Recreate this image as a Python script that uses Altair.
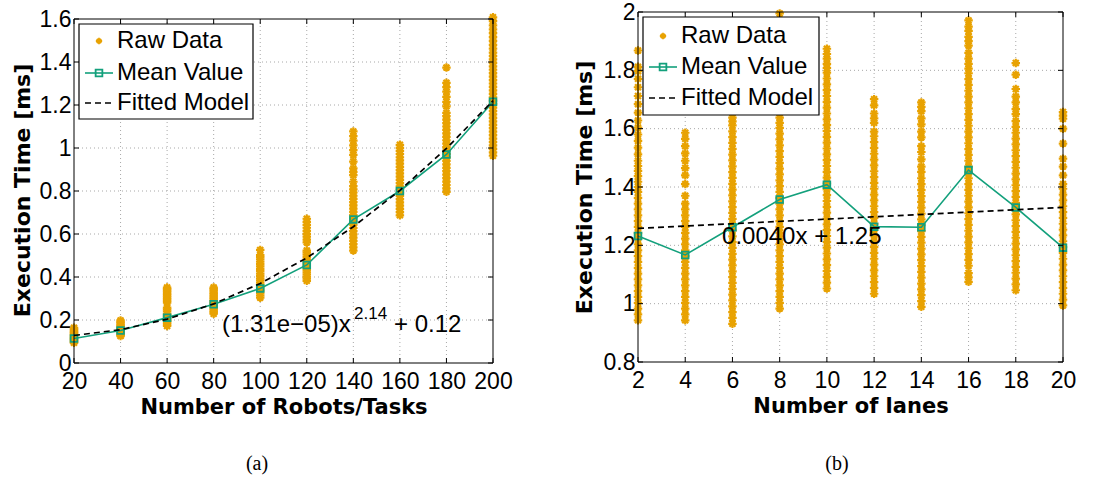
import altair as alt
import pandas as pd

# ---------------- panel (a): number of robots / tasks ----------------
robots_ticks = [20, 40, 60, 80, 100, 120, 140, 160, 180, 200]
robots_time_ticks = [0, 0.2, 0.4, 0.6, 0.8, 1.0, 1.2, 1.4, 1.6]
robots_mean = [0.114, 0.151, 0.211, 0.273, 0.347, 0.456, 0.668, 0.800, 0.970, 1.215]
robots_fit = [0.128, 0.155, 0.204, 0.275, 0.370, 0.489, 0.634, 0.803, 0.998, 1.220]

robots_raw_020 = [0.094, 0.099, 0.105, 0.111, 0.116, 0.122, 0.128, 0.133, 0.139, 0.145, 0.151, 0.157, 0.164]
robots_raw_040 = [0.125, 0.131, 0.138, 0.144, 0.150, 0.157, 0.163, 0.170, 0.177, 0.184, 0.191, 0.198]
robots_raw_060 = [0.172, 0.179, 0.187, 0.195, 0.203, 0.211, 0.220, 0.229, 0.240, 0.249, 0.258,
                  0.281, 0.289, 0.297, 0.305, 0.313, 0.321, 0.329, 0.337, 0.344, 0.351]
robots_raw_080 = [0.229, 0.237, 0.245, 0.253, 0.262, 0.270, 0.278, 0.287, 0.295, 0.303, 0.311,
                  0.320, 0.328, 0.336, 0.344, 0.351]
robots_raw_100 = [0.304, 0.314, 0.324, 0.334, 0.344, 0.354, 0.364, 0.374, 0.384, 0.394, 0.405,
                  0.416, 0.427, 0.438, 0.449, 0.460, 0.471, 0.482, 0.492, 0.502, 0.526]
robots_raw_120 = [0.382, 0.392, 0.402, 0.412, 0.422, 0.432, 0.442, 0.452, 0.462, 0.472, 0.482,
                  0.493, 0.504, 0.514, 0.523, 0.561, 0.574, 0.588, 0.601, 0.615, 0.629, 0.642,
                  0.656, 0.671]
robots_raw_140 = [0.523, 0.538, 0.553, 0.568, 0.583, 0.598, 0.613, 0.628, 0.643, 0.658, 0.673,
                  0.688, 0.703, 0.718, 0.733, 0.748, 0.763, 0.778, 0.793, 0.808, 0.823, 0.843,
                  0.874, 0.889, 0.905, 0.937, 0.968, 0.990, 1.012, 1.034, 1.055, 1.077]
robots_raw_160 = [0.687, 0.702, 0.717, 0.732, 0.747, 0.762, 0.777, 0.792, 0.807, 0.822, 0.837,
                  0.852, 0.867, 0.882, 0.897, 0.912, 0.927, 0.942, 0.957, 0.972, 0.987, 1.001,
                  1.015]
robots_raw_180 = [0.796, 0.812, 0.828, 0.844, 0.860, 0.876, 0.892, 0.908, 0.924, 0.940, 0.956,
                  0.972, 0.988, 1.004, 1.020, 1.036, 1.052, 1.068, 1.084, 1.100, 1.116, 1.132,
                  1.148, 1.163, 1.194, 1.215, 1.238, 1.262, 1.283, 1.303, 1.374]
robots_raw_200 = [0.964, 0.980, 0.996, 1.012, 1.028, 1.044, 1.060, 1.076, 1.092, 1.108, 1.124,
                  1.140, 1.156, 1.172, 1.188, 1.204, 1.220, 1.236, 1.252, 1.268, 1.284, 1.300,
                  1.316, 1.332, 1.348, 1.364, 1.380, 1.396, 1.412, 1.428, 1.444, 1.462, 1.480,
                  1.498, 1.516, 1.534, 1.552, 1.570, 1.590, 1.608]

# ---------------- panel (b): number of lanes ----------------
lanes_ticks = [2, 4, 6, 8, 10, 12, 14, 16, 18, 20]
lanes_time_ticks = [0.8, 1.0, 1.2, 1.4, 1.6, 1.8, 2.0]
lanes_mean = [1.232, 1.167, 1.262, 1.357, 1.408, 1.264, 1.262, 1.458, 1.330, 1.192]
lanes_fit_x = [2, 20]
lanes_fit = [1.258, 1.330]

lanes_raw_02 = [0.943, 0.963, 0.983, 1.003, 1.023, 1.043, 1.063, 1.083, 1.103, 1.123, 1.143,
                1.163, 1.183, 1.203, 1.223, 1.243, 1.263, 1.283, 1.303, 1.323, 1.343, 1.363,
                1.383, 1.400, 1.418, 1.437, 1.455, 1.472, 1.490, 1.512, 1.535, 1.558, 1.580,
                1.604, 1.628, 1.655, 1.684, 1.712, 1.742, 1.771, 1.797, 1.812, 1.868]
lanes_raw_04 = [0.943, 0.963, 0.983, 1.003, 1.023, 1.043, 1.063, 1.083, 1.103, 1.123, 1.143,
                1.163, 1.183, 1.203, 1.223, 1.243, 1.263, 1.283, 1.303, 1.323, 1.343, 1.370,
                1.410, 1.440, 1.465, 1.490, 1.515, 1.540, 1.565, 1.586]
lanes_raw_06 = [0.931, 0.951, 0.971, 0.991, 1.011, 1.031, 1.051, 1.071, 1.091, 1.111, 1.131,
                1.151, 1.171, 1.191, 1.211, 1.231, 1.251, 1.271, 1.291, 1.311, 1.331, 1.351,
                1.371, 1.391, 1.411, 1.431, 1.451, 1.471, 1.491, 1.511, 1.531, 1.551, 1.571,
                1.591, 1.611, 1.625, 1.638]
lanes_raw_08 = [0.983, 1.003, 1.023, 1.043, 1.063, 1.083, 1.103, 1.123, 1.143, 1.163, 1.183,
                1.203, 1.223, 1.243, 1.263, 1.283, 1.303, 1.323, 1.343, 1.363, 1.383, 1.403,
                1.423, 1.443, 1.463, 1.483, 1.503, 1.523, 1.543, 1.563, 1.583, 1.603, 1.620,
                1.638, 1.995]
lanes_raw_10 = [1.052, 1.072, 1.092, 1.112, 1.132, 1.152, 1.172, 1.192, 1.212, 1.232, 1.252,
                1.272, 1.292, 1.312, 1.332, 1.352, 1.372, 1.392, 1.412, 1.432, 1.452, 1.472,
                1.492, 1.512, 1.532, 1.552, 1.572, 1.592, 1.612, 1.632, 1.652, 1.672, 1.692,
                1.712, 1.732, 1.752, 1.772, 1.792, 1.808, 1.822, 1.840, 1.856, 1.874]
lanes_raw_12 = [1.034, 1.054, 1.074, 1.094, 1.114, 1.134, 1.154, 1.174, 1.194, 1.214, 1.234,
                1.254, 1.274, 1.294, 1.314, 1.334, 1.354, 1.374, 1.394, 1.414, 1.434, 1.454,
                1.474, 1.494, 1.514, 1.534, 1.554, 1.574, 1.590, 1.620, 1.635, 1.652, 1.680,
                1.701]
lanes_raw_14 = [0.989, 1.009, 1.029, 1.049, 1.069, 1.089, 1.109, 1.129, 1.149, 1.169, 1.189,
                1.209, 1.229, 1.249, 1.269, 1.289, 1.309, 1.329, 1.349, 1.369, 1.389, 1.410,
                1.430, 1.452, 1.470, 1.495, 1.520, 1.540, 1.570, 1.590, 1.615, 1.635, 1.660,
                1.675, 1.690]
lanes_raw_16 = [1.075, 1.090, 1.105, 1.130, 1.150, 1.170, 1.190, 1.210, 1.230, 1.250, 1.270,
                1.290, 1.310, 1.330, 1.350, 1.370, 1.390, 1.410, 1.430, 1.450, 1.470, 1.490,
                1.510, 1.530, 1.550, 1.570, 1.590, 1.610, 1.630, 1.650, 1.670, 1.690, 1.710,
                1.730, 1.750, 1.770, 1.790, 1.806, 1.822, 1.840, 1.860, 1.885, 1.900, 1.915,
                1.935, 1.950, 1.971]
lanes_raw_18 = [1.046, 1.066, 1.086, 1.106, 1.126, 1.146, 1.166, 1.186, 1.206, 1.226, 1.246,
                1.266, 1.286, 1.306, 1.326, 1.346, 1.366, 1.386, 1.406, 1.426, 1.446, 1.466,
                1.486, 1.506, 1.526, 1.546, 1.566, 1.586, 1.606, 1.626, 1.650, 1.667, 1.690,
                1.710, 1.736, 1.785, 1.825]
lanes_raw_20 = [0.994, 1.014, 1.034, 1.054, 1.074, 1.094, 1.114, 1.134, 1.154, 1.174, 1.194,
                1.214, 1.234, 1.254, 1.274, 1.294, 1.314, 1.334, 1.354, 1.374, 1.394, 1.410,
                1.440, 1.470, 1.497, 1.549, 1.600, 1.634, 1.645, 1.657]

legend_labels = ["Raw Data", "Mean Value", "Fitted Model"]
fit_text_a = ["(1.31e\u221205)x", "2.14", "+ 0.12"]
fit_text_b = "0.0040x + 1.25"
captions = ["(a)", "(b)"]
y_title = "Execution Time [ms]"
x_titles = ["Number of Robots/Tasks", "Number of lanes"]

# ---------------- styling ----------------
ORANGE = "#E8A202"
GREEN = "#13A07C"
GRID = "#A8A8A8"
ASTER = "M-1,0L1,0M0,-1L0,1M-0.7,-0.7L0.7,0.7M-0.7,0.7L0.7,-0.7"
SANS = "Liberation Sans"
BOLD = "DejaVu Sans"
ONE = pd.DataFrame({"k": [0]})


def build_panel(xt, yt, raw_lists, mean_vals, fit_x, fit_vals, width, height, yrange,
                xtitle, title_x, title_y, leg, ann_layers, caption, cap_xy):
    xdom = [xt[0], xt[-1]]
    ydom = [yt[0], yt[-1]]
    xscale = alt.Scale(domain=xdom, nice=False, zero=False)
    yscale = alt.Scale(domain=ydom, nice=False, zero=False, range=yrange)
    xaxis = alt.Axis(values=xt, format="d", domain=False, ticks=False, tickSize=0, grid=False,
                     labelFlush=False, labelOverlap=False, labelPadding=7, labelFont=SANS,
                     labelFontSize=23, labelColor="black", titleFont=BOLD, titleFontSize=21,
                     titleFontWeight="bold", titleColor="black", titlePadding=3)
    yaxis = alt.Axis(values=yt, format=".1~f", domain=False, ticks=False, tickSize=0, grid=False,
                     labelFlush=False, labelOverlap=False, labelPadding=3, labelFont=SANS,
                     labelFontSize=23, labelColor="black", titleFont=BOLD, titleFontSize=22,
                     titleFontWeight="bold", titleColor="black", titleX=title_x, titleY=title_y,
                     titleBaseline="middle")

    def X(f):
        return alt.X(f, type="quantitative", scale=xscale, axis=xaxis, title=xtitle)

    def Y(f):
        return alt.Y(f, type="quantitative", scale=yscale, axis=yaxis, title=y_title)

    bottom_px, top_px = yrange

    raw_df = pd.DataFrame({
        "x": [xv for xv, vals in zip(xt, raw_lists) for _ in vals],
        "v": [v for vals in raw_lists for v in vals],
    })
    mean_df = pd.DataFrame({"x": xt, "v": mean_vals})
    fit_df = pd.DataFrame({"x": fit_x, "v": fit_vals})
    vgrid = pd.DataFrame({"x": xt[1:-1], "v": [ydom[0]] * (len(xt) - 2), "v2": [ydom[1]] * (len(xt) - 2)})
    hgrid = pd.DataFrame({"x": [xdom[0]] * (len(yt) - 2), "x2": [xdom[1]] * (len(yt) - 2), "v": yt[1:-1]})
    frame_df = pd.DataFrame({"x": [xdom[0]], "x2": [xdom[1]], "v": [ydom[0]], "v2": [ydom[1]]})
    xtick_df = pd.DataFrame({"x": xt, "v": [ydom[0]] * len(xt)})
    ytick_df = pd.DataFrame({"x": [xdom[0]] * len(yt), "v": yt})

    layers = []
    layers.append(alt.Chart(vgrid).mark_rule(color=GRID, strokeDash=[1, 3], strokeWidth=1)
                  .encode(x=X("x"), y=Y("v"), y2="v2"))
    layers.append(alt.Chart(hgrid).mark_rule(color=GRID, strokeDash=[1, 3], strokeWidth=1)
                  .encode(y=Y("v"), x=X("x"), x2="x2"))
    layers.append(alt.Chart(raw_df).mark_point(shape=ASTER, filled=False, color=ORANGE, size=72,
                                               strokeWidth=2.2, opacity=1)
                  .encode(x=X("x"), y=Y("v")))
    layers.append(alt.Chart(mean_df).mark_line(color=GREEN, strokeWidth=1.6)
                  .encode(x=X("x"), y=Y("v")))
    layers.append(alt.Chart(mean_df).mark_point(shape="square", filled=False, color=GREEN,
                                                size=45, strokeWidth=1.8, opacity=1)
                  .encode(x=X("x"), y=Y("v")))
    layers.append(alt.Chart(fit_df).mark_line(color="black", strokeDash=[6, 4], strokeWidth=1.7)
                  .encode(x=X("x"), y=Y("v")))
    layers.extend(ann_layers(X, Y))
    layers.append(alt.Chart(frame_df).mark_rect(fill="white", fillOpacity=0, stroke="black",
                                                strokeWidth=1)
                  .encode(x=X("x"), x2="x2", y=Y("v"), y2="v2"))
    # inward ticks on all four sides
    layers.append(alt.Chart(xtick_df).mark_rule(color="black", strokeWidth=1)
                  .encode(x=X("x"), y=alt.value(bottom_px), y2=alt.value(bottom_px - 5)))
    layers.append(alt.Chart(xtick_df).mark_rule(color="black", strokeWidth=1)
                  .encode(x=X("x"), y=alt.value(top_px), y2=alt.value(top_px + 5)))
    layers.append(alt.Chart(ytick_df).mark_rule(color="black", strokeWidth=1)
                  .encode(y=Y("v"), x=alt.value(0), x2=alt.value(5)))
    layers.append(alt.Chart(ytick_df).mark_rule(color="black", strokeWidth=1)
                  .encode(y=Y("v"), x=alt.value(width - 5), x2=alt.value(width)))

    # legend
    bx0, by0, bx1, by1, rows = leg
    layers.append(alt.Chart(ONE).mark_rect(fill="white", stroke="black", strokeWidth=1.2)
                  .encode(x=alt.value(bx0), x2=alt.value(bx1), y=alt.value(by0), y2=alt.value(by1)))
    layers.append(alt.Chart(ONE).mark_point(shape=ASTER, filled=False, color=ORANGE, size=40,
                                            strokeWidth=1.8, opacity=1)
                  .encode(x=alt.value(bx0 + 20), y=alt.value(rows[0])))
    layers.append(alt.Chart(ONE).mark_rule(color=GREEN, strokeWidth=1.6)
                  .encode(x=alt.value(bx0 + 6), x2=alt.value(bx0 + 34), y=alt.value(rows[1])))
    layers.append(alt.Chart(ONE).mark_point(shape="square", filled=False, color=GREEN, size=45,
                                            strokeWidth=1.8, opacity=1)
                  .encode(x=alt.value(bx0 + 20), y=alt.value(rows[1])))
    layers.append(alt.Chart(ONE).mark_rule(color="black", strokeWidth=1.7, strokeDash=[6, 4])
                  .encode(x=alt.value(bx0 + 6), x2=alt.value(bx0 + 34), y=alt.value(rows[2])))
    for lab, ry in zip(legend_labels, rows):
        layers.append(alt.Chart(ONE).mark_text(align="left", baseline="middle", font=SANS,
                                               fontSize=24, color="black")
                      .encode(x=alt.value(bx0 + 38), y=alt.value(ry), text=alt.value(lab)))
    # caption
    layers.append(alt.Chart(ONE).mark_text(align="center", baseline="middle",
                                           font="Liberation Serif", fontSize=20, color="black")
                  .encode(x=alt.value(cap_xy[0]), y=alt.value(cap_xy[1]), text=alt.value(caption)))

    return alt.layer(*layers).properties(width=width, height=height)


def ann_a(X, Y):
    df = pd.DataFrame({"x": [83.6], "v": [0.177]})
    base = dict(align="left", baseline="middle", font=SANS, color="black")
    return [
        alt.Chart(df).mark_text(fontSize=24, **base).encode(x=X("x"), y=Y("v"), text=alt.value(fit_text_a[0])),
        alt.Chart(df).mark_text(fontSize=17, dx=132, dy=-11, **base).encode(x=X("x"), y=Y("v"), text=alt.value(fit_text_a[1])),
        alt.Chart(df).mark_text(fontSize=24, dx=172, **base).encode(x=X("x"), y=Y("v"), text=alt.value(fit_text_a[2])),
    ]


def ann_b(X, Y):
    df = pd.DataFrame({"x": [5.56], "v": [1.229]})
    return [
        alt.Chart(df).mark_text(fontSize=24, align="left", baseline="middle", font=SANS, color="black")
        .encode(x=X("x"), y=Y("v"), text=alt.value(fit_text_b)),
    ]


left = build_panel(
    robots_ticks, robots_time_ticks,
    [robots_raw_020, robots_raw_040, robots_raw_060, robots_raw_080, robots_raw_100,
     robots_raw_120, robots_raw_140, robots_raw_160, robots_raw_180, robots_raw_200],
    robots_mean, robots_ticks, robots_fit,
    419, 351, [351, 7], x_titles[0], -52, 178,
    (5, 12, 179, 107, [29, 61, 91]), ann_a, captions[0], (183, 452))

right = build_panel(
    lanes_ticks, lanes_time_ticks,
    [lanes_raw_02, lanes_raw_04, lanes_raw_06, lanes_raw_08, lanes_raw_10,
     lanes_raw_12, lanes_raw_14, lanes_raw_16, lanes_raw_18, lanes_raw_20],
    lanes_mean, lanes_fit_x, lanes_fit,
    425, 350, [350, 0], x_titles[1], -54, 175,
    (5, 5, 181, 103, [24, 55, 86]), ann_b, captions[1], (199, 452))

chart = (
    alt.hconcat(left, right, spacing=60)
    .properties(padding={"left": 11, "top": 1, "right": 5, "bottom": 5}, background="white")
    .configure_view(stroke=None)
)

chart.save("out.html", embed_options={"renderer": "svg", "actions": False})
